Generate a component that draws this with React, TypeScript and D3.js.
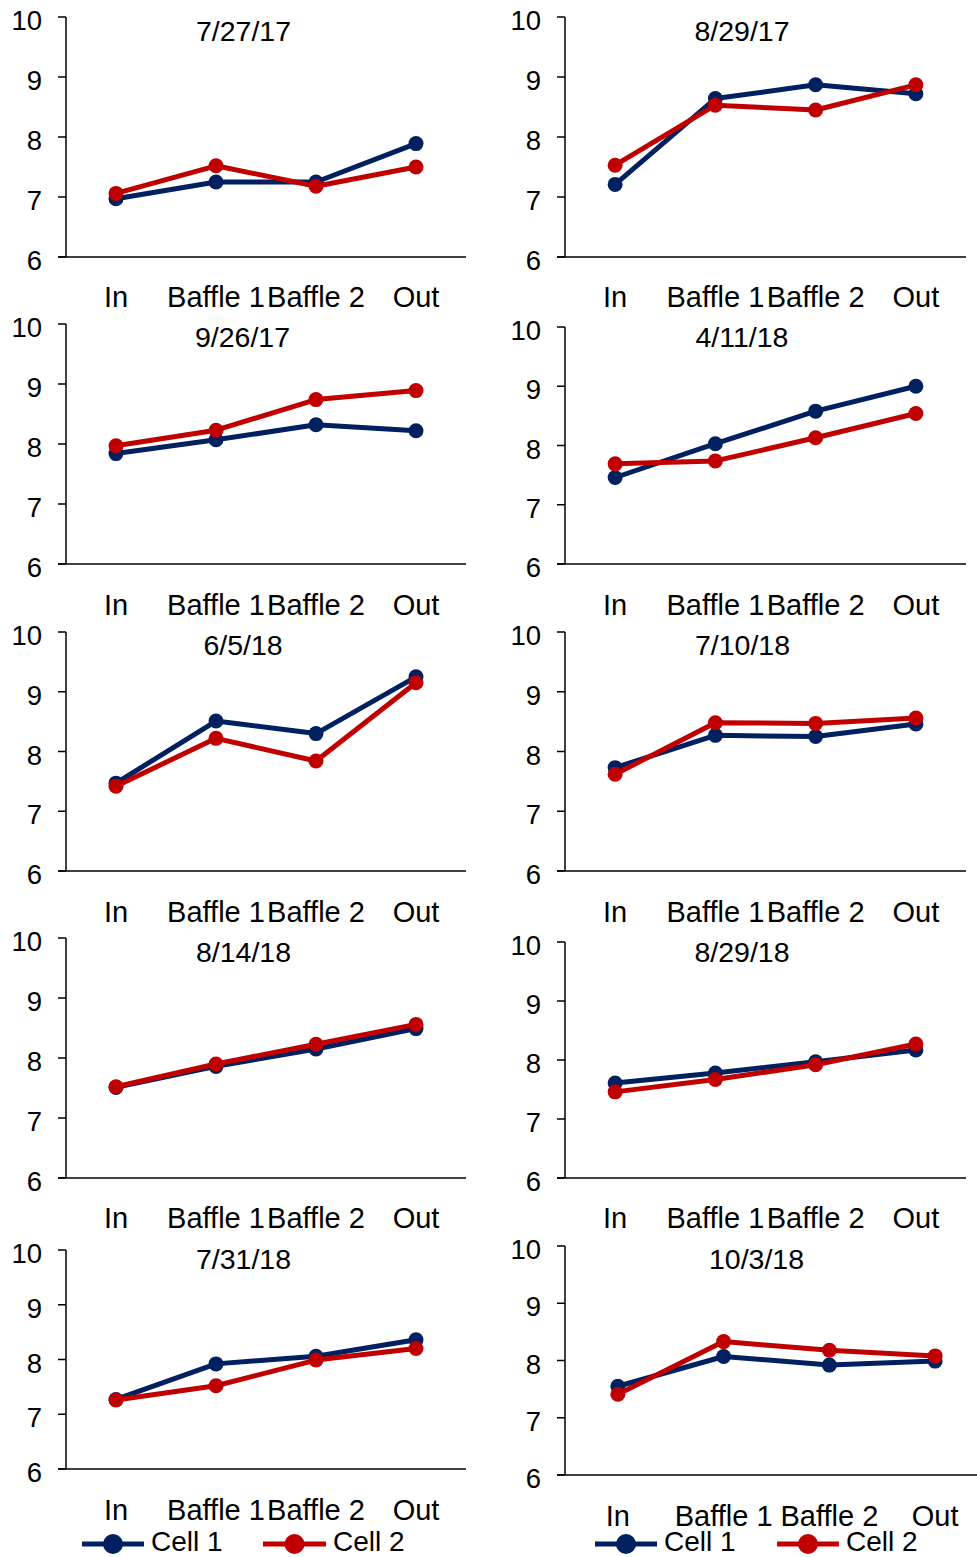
import React from "react";
import * as d3 from "d3";

// Sampling locations along the treatment train
const categories = ["In", "Baffle 1", "Baffle 2", "Out"];
const seriesNames = ["Cell 1", "Cell 2"];
const yTicks = [6, 7, 8, 9, 10];

// pH readings per sampling date (Cell 1 / Cell 2)
const cell1_072717 = [6.97, 7.25, 7.25, 7.89];
const cell2_072717 = [7.06, 7.52, 7.18, 7.5];
const cell1_082917 = [7.21, 8.64, 8.87, 8.72];
const cell2_082917 = [7.53, 8.53, 8.45, 8.87];
const cell1_092617 = [7.84, 8.07, 8.32, 8.22];
const cell2_092617 = [7.97, 8.23, 8.74, 8.89];
const cell1_041118 = [7.46, 8.03, 8.58, 9.0];
const cell2_041118 = [7.69, 7.74, 8.13, 8.54];
const cell1_060518 = [7.47, 8.51, 8.3, 9.25];
const cell2_060518 = [7.42, 8.22, 7.84, 9.15];
const cell1_071018 = [7.73, 8.27, 8.25, 8.46];
const cell2_071018 = [7.62, 8.48, 8.47, 8.56];
const cell1_081418 = [7.51, 7.86, 8.15, 8.49];
const cell2_081418 = [7.52, 7.9, 8.23, 8.56];
const cell1_082918 = [7.61, 7.78, 7.97, 8.17];
const cell2_082918 = [7.46, 7.67, 7.92, 8.27];
const cell1_073118 = [7.27, 7.92, 8.06, 8.36];
const cell2_073118 = [7.26, 7.52, 7.99, 8.2];
const cell1_100318 = [7.55, 8.07, 7.92, 7.99];
const cell2_100318 = [7.41, 8.33, 8.18, 8.08];

const dates = [
  "7/27/17", "8/29/17", "9/26/17", "4/11/18", "6/5/18",
  "7/10/18", "8/14/18", "8/29/18", "7/31/18", "10/3/18",
];
const cell1Values = [
  cell1_072717, cell1_082917, cell1_092617, cell1_041118, cell1_060518,
  cell1_071018, cell1_081418, cell1_082918, cell1_073118, cell1_100318,
];
const cell2Values = [
  cell2_072717, cell2_082917, cell2_092617, cell2_041118, cell2_060518,
  cell2_071018, cell2_081418, cell2_082918, cell2_073118, cell2_100318,
];

const COLORS = ["#002060", "#C00000"];
const FONT = "'Liberation Sans', Arial, Helvetica, sans-serif";

// Plot frame for each small multiple
type Frame = { x0: number; x1: number; yTop: number; yBot: number; tx: number; ty: number; cy: number };
const frames: Frame[] = [
  { x0: 66, x1: 466, yTop: 17, yBot: 257, tx: 243.5, ty: 40.5, cy: 307 },
  { x0: 565, x1: 966, yTop: 17, yBot: 257, tx: 742, ty: 40.5, cy: 307 },
  { x0: 66, x1: 466, yTop: 324, yBot: 564, tx: 242.5, ty: 347, cy: 615 },
  { x0: 565, x1: 966, yTop: 327, yBot: 564, tx: 742, ty: 347, cy: 615 },
  { x0: 66, x1: 466, yTop: 632, yBot: 871, tx: 243, ty: 655, cy: 922 },
  { x0: 565, x1: 966, yTop: 632, yBot: 871, tx: 742.5, ty: 655, cy: 922 },
  { x0: 66, x1: 466, yTop: 938, yBot: 1178, tx: 243.5, ty: 962, cy: 1228 },
  { x0: 565, x1: 966, yTop: 942, yBot: 1178, tx: 742, ty: 962, cy: 1228 },
  { x0: 66, x1: 466, yTop: 1250, yBot: 1469, tx: 243.5, ty: 1269, cy: 1520 },
  { x0: 565, x1: 988, yTop: 1246, yBot: 1475, tx: 756.5, ty: 1269, cy: 1526 },
];

// Legend placement under each bottom chart
const legends = [
  { y: 1544, items: [{ l0: 82, l1: 144, tx: 151 }, { l0: 263, l1: 326, tx: 333 }] },
  { y: 1544, items: [{ l0: 595, l1: 657, tx: 664 }, { l0: 777, l1: 839, tx: 846 }] },
];

function Panel({ idx }: { idx: number }) {
  const f = frames[idx];
  const x = d3.scalePoint<string>().domain(categories).range([f.x0, f.x1]).padding(0.5);
  const y = d3.scaleLinear().domain([6, 10]).range([f.yBot, f.yTop]);
  const line = d3
    .line<number>()
    .x((_, i) => x(categories[i]) as number)
    .y((v) => y(v));
  const series = [cell1Values[idx], cell2Values[idx]];
  return (
    <g>
      {/* y axis */}
      <line x1={f.x0} x2={f.x0} y1={f.yTop} y2={f.yBot} stroke="#000" strokeWidth={1.5} />
      {yTicks.map((t) => (
        <g key={t}>
          <line x1={f.x0 - 8} x2={f.x0} y1={y(t)} y2={y(t)} stroke="#000" strokeWidth={1.5} />
          <text x={f.x0 - 24} y={y(t) + 13} textAnchor="end" fontSize={27.5} fontFamily={FONT} fill="#000">
            {t}
          </text>
        </g>
      ))}
      {/* x axis */}
      <line x1={f.x0 - 8} x2={f.x1} y1={f.yBot} y2={f.yBot} stroke="#000" strokeWidth={1.5} />
      {categories.map((c) => (
        <text key={c} x={x(c)} y={f.cy} textAnchor="middle" fontSize={29} fontFamily={FONT} fill="#000">
          {c}
        </text>
      ))}
      <text x={f.tx} y={f.ty} textAnchor="middle" fontSize={28.5} fontFamily={FONT} fill="#000">
        {dates[idx]}
      </text>
      {series.map((vals, s) => (
        <g key={s}>
          <path d={line(vals) as string} fill="none" stroke={COLORS[s]} strokeWidth={5} strokeLinejoin="round" />
          {vals.map((v, i) => (
            <circle key={i} cx={x(categories[i])} cy={y(v)} r={7.5} fill={COLORS[s]} />
          ))}
        </g>
      ))}
    </g>
  );
}

export default function App() {
  return (
    <svg
      width={977}
      height={1557}
      viewBox="0 0 977 1557"
      style={{ position: "absolute", left: 0, top: 0, background: "#fff" }}
    >
      <rect width={977} height={1557} fill="#fff" />
      {dates.map((_, i) => (
        <Panel key={i} idx={i} />
      ))}
      {legends.map((lg, k) => (
        <g key={k}>
          {lg.items.map((it, s) => (
            <g key={s}>
              <line x1={it.l0} x2={it.l1} y1={lg.y} y2={lg.y} stroke={COLORS[s]} strokeWidth={5} />
              <circle cx={(it.l0 + it.l1) / 2} cy={lg.y} r={10} fill={COLORS[s]} />
              <text x={it.tx} y={lg.y + 7} fontSize={28} fontFamily={FONT} fill="#000">
                {seriesNames[s]}
              </text>
            </g>
          ))}
        </g>
      ))}
    </svg>
  );
}
